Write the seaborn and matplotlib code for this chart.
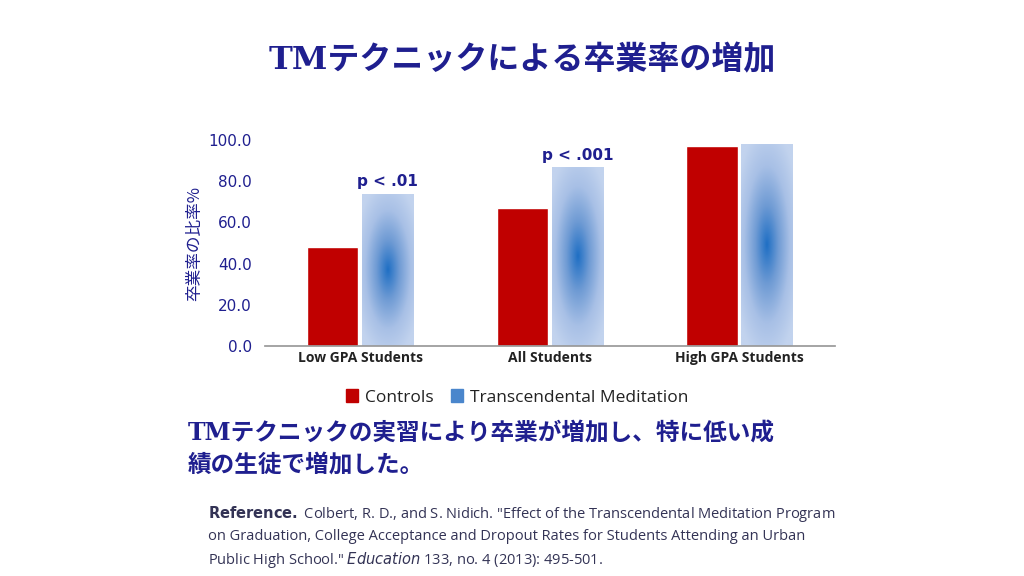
import numpy as np
import pandas as pd
import matplotlib
matplotlib.use("Agg")
import matplotlib.pyplot as plt
import seaborn as sns
from matplotlib.patches import Rectangle
from matplotlib.colors import LinearSegmentedColormap

categories = ["Low GPA Students", "All Students", "High GPA Students"]
series = ["Controls", "Transcendental Meditation"]
controls = [48.0, 67.0, 97.0]
tm = [74.0, 87.0, 98.0]
pvals = ["p < .01", "p < .001", ""]
yticks = [0, 20, 40, 60, 80, 100]

sns.set_theme(style="white")
plt.rcParams['font.family'] = ['Noto Sans CJK JP', 'DejaVu Sans']
navy = "#1F1F8F"
red = "#C00000"

df = pd.DataFrame({"cat": categories * 2,
                   "series": [series[0]] * 3 + [series[1]] * 3,
                   "val": controls + tm})

fig = plt.figure(figsize=(10.24, 5.76), dpi=100)
ax = fig.add_axes([0.259, 0.399, 0.556, 0.358])
sns.barplot(data=df, x="cat", y="val", hue="series", ax=ax,
            palette=[red, "#A9C1E3"], width=0.58, gap=0.06, saturation=1, legend=False)

tm_patches = ax.patches[3:6]
yy, xx = np.mgrid[-1:1:200j, -1:1:100j]
r = np.sqrt((xx * 0.75)**2 + (yy * 0.85)**2)
cmap = LinearSegmentedColormap.from_list("g", ["#1F6FC4", "#6F9BD4", "#A8C0E6", "#C2D3EE"])
for p in tm_patches:
    x0, y0, w, h = p.get_x(), p.get_y(), p.get_width(), p.get_height()
    im = ax.imshow(r, extent=[x0, x0 + w, y0, y0 + h], cmap=cmap, vmin=0, vmax=1.0,
                   aspect="auto", origin="lower", zorder=p.get_zorder())
    im.set_clip_path(p)
    p.set_facecolor("none")
ax.set_xlim(-0.5, 2.5)
ax.set_ylim(0, 100)
ax.set_yticks(yticks)
ax.set_yticklabels([f"{v:.1f}" for v in yticks], color=navy, fontsize=11, family=['DejaVu Sans'])
ax.set_xticks(range(3))
ax.set_xticklabels(categories, fontsize=10, fontweight="bold", color="#222222",
                   family=['Open Sans', 'DejaVu Sans'])
ax.set_xlabel("")
ax.set_ylabel("卒業率の比率%", color=navy, fontsize=12)
for s in ["top", "right", "left"]:
    ax.spines[s].set_visible(False)
ax.spines["bottom"].set_color("#999999")
ax.tick_params(axis="x", length=0)

for i, p in enumerate(pvals):
    if p:
        bp = tm_patches[i]
        ax.text(bp.get_x() + bp.get_width() / 2, tm[i] + 2, p, ha="center", va="bottom",
                color=navy, fontsize=11, fontweight="bold", family=['DejaVu Sans'])

handles = [Rectangle((0, 0), 1, 1, color=red), Rectangle((0, 0), 1, 1, color="#4A86CC")]
fig.legend(handles, series, loc="center", bbox_to_anchor=(0.505, 0.31), ncol=2, frameon=False,
           handlelength=0.7, handleheight=0.7, columnspacing=1.0, handletextpad=0.4,
           labelcolor="#222222", prop={'family': ['Open Sans', 'DejaVu Sans'], 'size': 12.5})

fig.text(0.51, 0.895, "TMテクニックによる卒業率の増加", ha="center", va="center",
         fontsize=23, fontweight="bold", color=navy, family=['DejaVu Serif', 'Noto Sans CJK JP'])
fig.text(0.183, 0.22, "TMテクニックの実習により卒業が増加し、特に低い成\n績の生徒で増加した。",
         ha="left", va="center", fontsize=17, fontweight="bold", color=navy, linespacing=1.35,
         family=['DejaVu Serif', 'Noto Sans CJK JP'])
t = fig.text(0.203, 0.068,
         "$\\bf{Reference.}$ Colbert, R. D., and S. Nidich. \"Effect of the Transcendental Meditation Program\n"
         "on Graduation, College Acceptance and Dropout Rates for Students Attending an Urban\n"
         "Public High School.\" $\\it{Education}$ 133, no. 4 (2013): 495-501.",
         ha="left", va="center", fontsize=10.5, color="#333355", linespacing=1.45,
         family=['Open Sans', 'DejaVu Sans'])

fig.savefig("out.png", dpi=100)
